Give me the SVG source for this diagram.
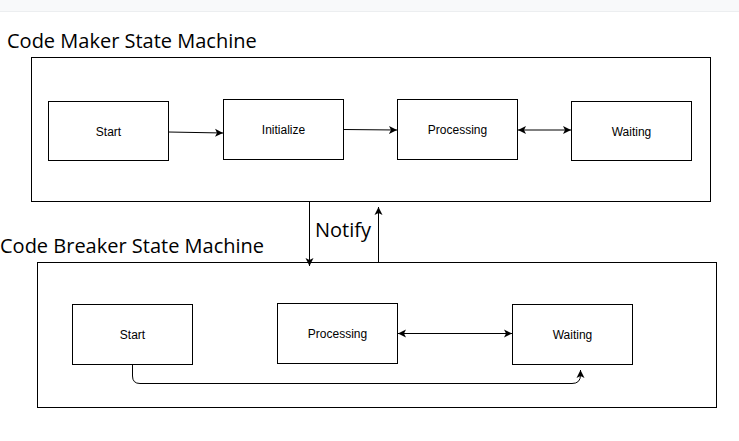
<svg xmlns="http://www.w3.org/2000/svg" width="739" height="441" viewBox="0 0 739 441">
<style>
.title{font-family:"Open Sans","Noto Sans",sans-serif;font-size:20px;fill:#000}
.box{fill:#fff;stroke:#000;stroke-width:1}
.lbl{font-family:"Liberation Sans",Arial,sans-serif;font-size:12px;fill:#000;text-anchor:middle;dominant-baseline:central}
.edge{fill:none;stroke:#000;stroke-width:1}
</style>
<defs>
<marker id="ah" markerWidth="9" markerHeight="9" refX="8" refY="4.5" orient="auto-start-reverse" markerUnits="userSpaceOnUse">
<path d="M0,0.5 L8,4.5 L0,8.5 L2,4.5 Z" fill="#000"/>
</marker>
</defs>
<rect x="0" y="0" width="739" height="11" fill="#f8f9fa"/>
<line x1="0" y1="11.5" x2="739" y2="11.5" stroke="#eceef0"/>
<rect width="739" height="430" y="12" fill="#fff"/>

<g id="maker">
<text class="title" x="7" y="48">Code Maker State Machine</text>
<rect class="box" x="31.5" y="57.5" width="679" height="144"/>
</g>
<g id="m-start"><rect class="box" x="48.5" y="101.5" width="120" height="59"/><text class="lbl" x="108.5" y="132">Start</text></g>
<g id="m-init"><rect class="box" x="223.5" y="99.5" width="120" height="60"/><text class="lbl" x="283.5" y="130">Initialize</text></g>
<g id="m-proc"><rect class="box" x="397.5" y="99.5" width="120" height="60"/><text class="lbl" x="457.5" y="130">Processing</text></g>
<g id="m-wait"><rect class="box" x="571.5" y="101.5" width="120" height="59"/><text class="lbl" x="631.5" y="132">Waiting</text></g>

<g id="breaker">
<text class="title" x="0" y="253">Code Breaker State Machine</text>
<rect class="box" x="37.5" y="262.5" width="679" height="145"/>
</g>
<g id="b-start"><rect class="box" x="72.5" y="304.5" width="120" height="60"/><text class="lbl" x="132.5" y="335">Start</text></g>
<g id="b-proc"><rect class="box" x="277.5" y="303.5" width="120" height="60"/><text class="lbl" x="337.5" y="334">Processing</text></g>
<g id="b-wait"><rect class="box" x="512.5" y="304.5" width="120" height="60"/><text class="lbl" x="572.5" y="335">Waiting</text></g>

<g id="notify-label"><text class="title" x="315" y="237">Notify</text></g>

<g id="connectors">
<path class="edge" d="M168.5,132 L223,133" marker-end="url(#ah)"/>
<path class="edge" d="M343.5,129.5 L397,130" marker-end="url(#ah)"/>
<path class="edge" d="M518,130 L571,130" marker-start="url(#ah)" marker-end="url(#ah)"/>
<path class="edge" d="M309.5,202 L309.5,266" marker-end="url(#ah)"/>
<path class="edge" d="M378.5,262 L378.5,207" marker-end="url(#ah)"/>
<path class="edge" d="M398,333.5 L512,333.5" marker-start="url(#ah)" marker-end="url(#ah)"/>
<path class="edge" d="M132.5,365 L132.5,376 Q132.5,383.5 140,383.5 L572,383.5 Q580.5,383.5 580.5,375 L580.5,370" marker-end="url(#ah)"/>
</g>
</svg>
